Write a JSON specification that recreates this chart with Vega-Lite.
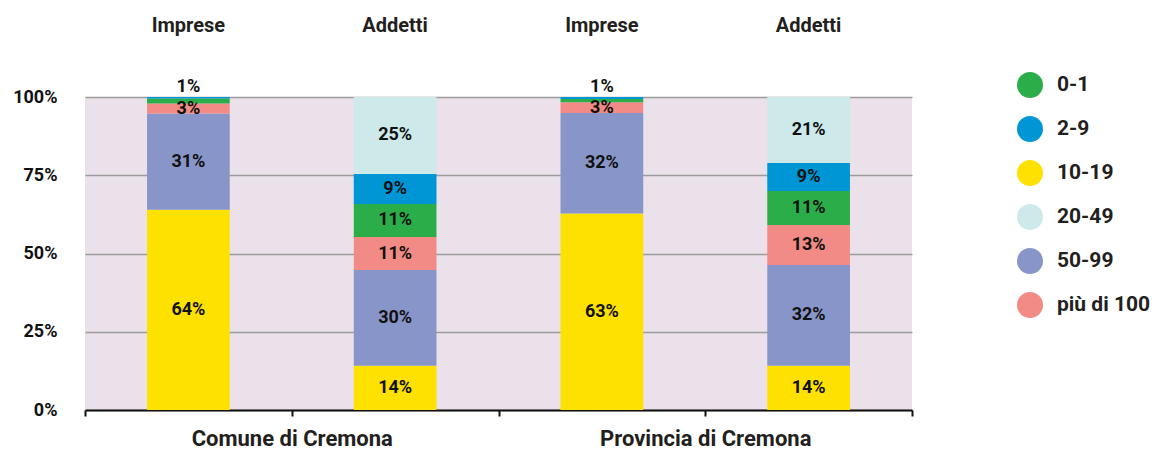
{
  "$schema": "https://vega.github.io/schema/vega-lite/v6.json",
  "width": 827,
  "height": 313,
  "autosize": "none",
  "padding": {"left": 85, "top": 97, "right": 248, "bottom": 42},
  "background": "white",
  "config": {
    "font": "Roboto",
    "view": {"fill": "#eae1ea", "stroke": null}
  },
  "data": {
    "values": [
      {"grp": "Comune di Cremona", "col": "Comune di Cremona|Imprese", "cls": "10-19", "k": 1, "v": 64.0, "lab": "64%"},
      {"grp": "Comune di Cremona", "col": "Comune di Cremona|Imprese", "cls": "50-99", "k": 2, "v": 30.7, "lab": "31%"},
      {"grp": "Comune di Cremona", "col": "Comune di Cremona|Imprese", "cls": "più di 100", "k": 3, "v": 3.2, "lab": "3%"},
      {"grp": "Comune di Cremona", "col": "Comune di Cremona|Imprese", "cls": "0-1", "k": 4, "v": 1.6, "lab": ""},
      {"grp": "Comune di Cremona", "col": "Comune di Cremona|Imprese", "cls": "2-9", "k": 5, "v": 0.5, "lab": "1%"},
      {"grp": "Comune di Cremona", "col": "Comune di Cremona|Addetti", "cls": "10-19", "k": 1, "v": 14.1, "lab": "14%"},
      {"grp": "Comune di Cremona", "col": "Comune di Cremona|Addetti", "cls": "50-99", "k": 2, "v": 30.6, "lab": "30%"},
      {"grp": "Comune di Cremona", "col": "Comune di Cremona|Addetti", "cls": "più di 100", "k": 3, "v": 10.6, "lab": "11%"},
      {"grp": "Comune di Cremona", "col": "Comune di Cremona|Addetti", "cls": "0-1", "k": 4, "v": 10.5, "lab": "11%"},
      {"grp": "Comune di Cremona", "col": "Comune di Cremona|Addetti", "cls": "2-9", "k": 5, "v": 9.6, "lab": "9%"},
      {"grp": "Comune di Cremona", "col": "Comune di Cremona|Addetti", "cls": "20-49", "k": 6, "v": 24.6, "lab": "25%"},
      {"grp": "Provincia di Cremona", "col": "Provincia di Cremona|Imprese", "cls": "10-19", "k": 1, "v": 62.8, "lab": "63%"},
      {"grp": "Provincia di Cremona", "col": "Provincia di Cremona|Imprese", "cls": "50-99", "k": 2, "v": 32.1, "lab": "32%"},
      {"grp": "Provincia di Cremona", "col": "Provincia di Cremona|Imprese", "cls": "più di 100", "k": 3, "v": 3.4, "lab": "3%"},
      {"grp": "Provincia di Cremona", "col": "Provincia di Cremona|Imprese", "cls": "0-1", "k": 4, "v": 1.1, "lab": ""},
      {"grp": "Provincia di Cremona", "col": "Provincia di Cremona|Imprese", "cls": "2-9", "k": 5, "v": 0.6, "lab": "1%"},
      {"grp": "Provincia di Cremona", "col": "Provincia di Cremona|Addetti", "cls": "10-19", "k": 1, "v": 14.1, "lab": "14%"},
      {"grp": "Provincia di Cremona", "col": "Provincia di Cremona|Addetti", "cls": "50-99", "k": 2, "v": 32.2, "lab": "32%"},
      {"grp": "Provincia di Cremona", "col": "Provincia di Cremona|Addetti", "cls": "più di 100", "k": 3, "v": 12.8, "lab": "13%"},
      {"grp": "Provincia di Cremona", "col": "Provincia di Cremona|Addetti", "cls": "0-1", "k": 4, "v": 10.9, "lab": "11%"},
      {"grp": "Provincia di Cremona", "col": "Provincia di Cremona|Addetti", "cls": "2-9", "k": 5, "v": 8.9, "lab": "9%"},
      {"grp": "Provincia di Cremona", "col": "Provincia di Cremona|Addetti", "cls": "20-49", "k": 6, "v": 21.1, "lab": "21%"}
    ]
  },
  "layer": [
    {
      "mark": {"type": "bar"},
      "encoding": {
        "x": {
          "field": "col", "type": "nominal",
          "sort": ["Comune di Cremona|Imprese", "Comune di Cremona|Addetti", "Provincia di Cremona|Imprese", "Provincia di Cremona|Addetti"],
          "scale": {"paddingInner": 0.6, "paddingOuter": 0.3},
          "axis": {
            "orient": "top", "title": null, "domain": false, "ticks": false,
            "labelAngle": 0, "labelExpr": "split(datum.label, '|')[1]",
            "labelFontSize": 20, "labelFontWeight": "bold", "labelColor": "#231f20",
            "labelPadding": 62
          }
        },
        "y": {
          "field": "v", "type": "quantitative", "stack": "normalize",
          "scale": {"domain": [0, 1]},
          "axis": {
            "title": null, "values": [0, 0.25, 0.5, 0.75, 1], "format": ".0%",
            "domain": false, "ticks": false, "labelPadding": 28,
            "labelFontSize": 18, "labelFontWeight": "bold", "labelColor": "#111111",
            "gridColor": "#9c9c9c", "gridWidth": 1.5
          }
        },
        "color": {
          "field": "cls", "type": "nominal",
          "scale": {
            "domain": ["0-1", "2-9", "10-19", "20-49", "50-99", "più di 100"],
            "range": ["#2bae4a", "#0096d6", "#ffe100", "#cde9ea", "#8895c9", "#f28b85"]
          },
          "legend": {
            "title": null, "orient": "none", "legendX": 932, "legendY": -25,
            "symbolType": "circle", "symbolSize": 676, "symbolStrokeWidth": 0,
            "rowPadding": 18, "labelOffset": 14, "labelLimit": 0,
            "labelFontSize": 21, "labelFontWeight": "bold", "labelColor": "#231f20"
          }
        },
        "order": {"field": "k", "type": "quantitative"}
      }
    },
    {
      "mark": {"type": "text", "fontSize": 18, "fontWeight": "bold", "color": "#111111"},
      "encoding": {
        "x": {
          "field": "col", "type": "nominal",
          "sort": ["Comune di Cremona|Imprese", "Comune di Cremona|Addetti", "Provincia di Cremona|Imprese", "Provincia di Cremona|Addetti"],
          "scale": {"paddingInner": 0, "paddingOuter": 0},
          "axis": {
            "orient": "bottom", "title": null, "tickBand": "extent",
            "labels": false, "grid": false,
            "domainColor": "#111111", "domainWidth": 2,
            "tickColor": "#111111", "tickWidth": 2, "tickSize": 6
          }
        },
        "y": {"field": "v", "type": "quantitative", "stack": "normalize", "bandPosition": 0.5},
        "order": {"field": "k", "type": "quantitative"},
        "text": {"condition": {"test": "datum.v < 1", "value": ""}, "field": "lab"}
      }
    },
    {
      "transform": [
        {"stack": "v", "groupby": ["col"], "sort": [{"field": "k"}], "offset": "normalize", "as": ["s0", "s1"]},
        {"filter": "datum.v < 1"}
      ],
      "mark": {"type": "text", "fontSize": 18, "fontWeight": "bold", "color": "#111111", "dy": -10},
      "encoding": {
        "x": {
          "field": "col", "type": "nominal",
          "scale": {"type": "band", "domain": ["Comune di Cremona|Imprese", "Comune di Cremona|Addetti", "Provincia di Cremona|Imprese", "Provincia di Cremona|Addetti"], "paddingInner": 0, "paddingOuter": 0},
          "axis": null
        },
        "y": {"field": "s1", "type": "quantitative", "title": null},
        "text": {"field": "lab"}
      }
    },
    {
      "mark": {"type": "text", "opacity": 0},
      "encoding": {
        "x": {
          "field": "grp", "type": "nominal",
          "scale": {"paddingInner": 0, "paddingOuter": 0},
          "axis": {
            "orient": "bottom", "title": null, "domain": false, "ticks": false, "grid": false,
            "labelAngle": 0, "labelLimit": 0, "labelPadding": 18,
            "labelFontSize": 22, "labelFontWeight": "bold", "labelColor": "#231f20"
          }
        },
        "text": {"value": ""}
      }
    }
  ],
  "resolve": {"scale": {"x": "independent"}, "axis": {"x": "independent"}}
}
